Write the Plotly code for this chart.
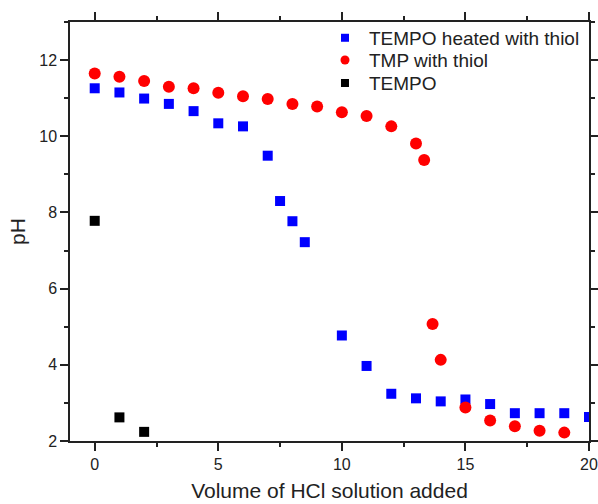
import plotly.graph_objects as go

# TEMPO heated with thiol
x_blue = [0, 1, 2, 3, 4, 5, 6, 7, 7.5, 8, 8.5, 10, 11, 12, 13, 14, 15, 16, 17, 18, 19, 20]
y_blue = [11.26, 11.15, 10.99, 10.85, 10.66, 10.34, 10.26, 9.49, 8.30, 7.77, 7.22, 4.77, 3.97,
          3.24, 3.12, 3.04, 3.09, 2.97, 2.73, 2.73, 2.73, 2.63]

# TMP with thiol
x_red = [0, 1, 2, 3, 4, 5, 6, 7, 8, 9, 10, 11, 12, 13, 13.33, 13.67, 14, 15, 16, 17, 18, 19]
y_red = [11.65, 11.56, 11.45, 11.30, 11.26, 11.14, 11.05, 10.98, 10.85, 10.78, 10.63, 10.53,
         10.26, 9.81, 9.38, 5.07, 4.13, 2.88, 2.54, 2.39, 2.27, 2.22]

# TEMPO
x_black = [0, 1, 2]
y_black = [7.78, 2.62, 2.24]

series_names = ["TEMPO heated with thiol", "TMP with thiol", "TEMPO"]

font_family = "Liberation Sans, Arial, sans-serif"
ink = "#222"

series = [
    (x_blue, y_blue, series_names[0], "square", 10, "#0000ff", 8),
    (x_red, y_red, series_names[1], "circle", 12, "#ff0000", 9),
    (x_black, y_black, series_names[2], "square", 10, "#000000", 8),
]
legend_ids = ["legend", "legend2", "legend3"]

fig = go.Figure()
for (xs, ys, name, sym, size, col, lsize), lid in zip(series, legend_ids):
    fig.add_trace(go.Scatter(x=xs, y=ys, mode="markers", name=name, legendgroup=name,
                             showlegend=False,
                             marker=dict(symbol=sym, size=size, color=col)))
    # legend glyph (smaller marker, as in the original legend)
    fig.add_trace(go.Scatter(x=[None], y=[None], mode="markers", name=name, legendgroup=name,
                             showlegend=True, legend=lid,
                             marker=dict(symbol=sym, size=lsize, color=col)))

axis_common = dict(showline=True, linecolor=ink, linewidth=1.5, mirror="ticks",
                   ticks="outside", ticklen=8, tickwidth=1.5, tickcolor=ink,
                   showgrid=False, zeroline=False, automargin=False,
                   tickfont=dict(family=font_family, size=16, color=ink))

legend_common = dict(x=0.4836, xanchor="left", yanchor="middle", bgcolor="rgba(0,0,0,0)",
                     font=dict(family=font_family, size=19, color=ink),
                     itemsizing="trace", itemwidth=38, borderwidth=0)

fig.update_layout(
    width=598, height=504,
    margin=dict(l=70, r=9, t=22, b=63),
    paper_bgcolor="white", plot_bgcolor="white",
    xaxis=dict(range=[-1, 20], dtick=5, tick0=0,
               minor=dict(dtick=2.5, ticks="outside", ticklen=4, tickwidth=1.5, tickcolor=ink),
               title=dict(text="Volume of HCl solution added",
                          font=dict(family=font_family, size=21, color=ink), standoff=11),
               **axis_common),
    yaxis=dict(range=[2, 13], dtick=2, tick0=0,
               minor=dict(dtick=1, ticks="outside", ticklen=4, tickwidth=1.5, tickcolor=ink),
               title=dict(text="pH", font=dict(family=font_family, size=21, color=ink), standoff=8),
               **axis_common),
    legend=dict(y=0.962, **legend_common),
    legend2=dict(y=0.909, **legend_common),
    legend3=dict(y=0.854, **legend_common),
    showlegend=True,
)

fig.write_html("out.html")
